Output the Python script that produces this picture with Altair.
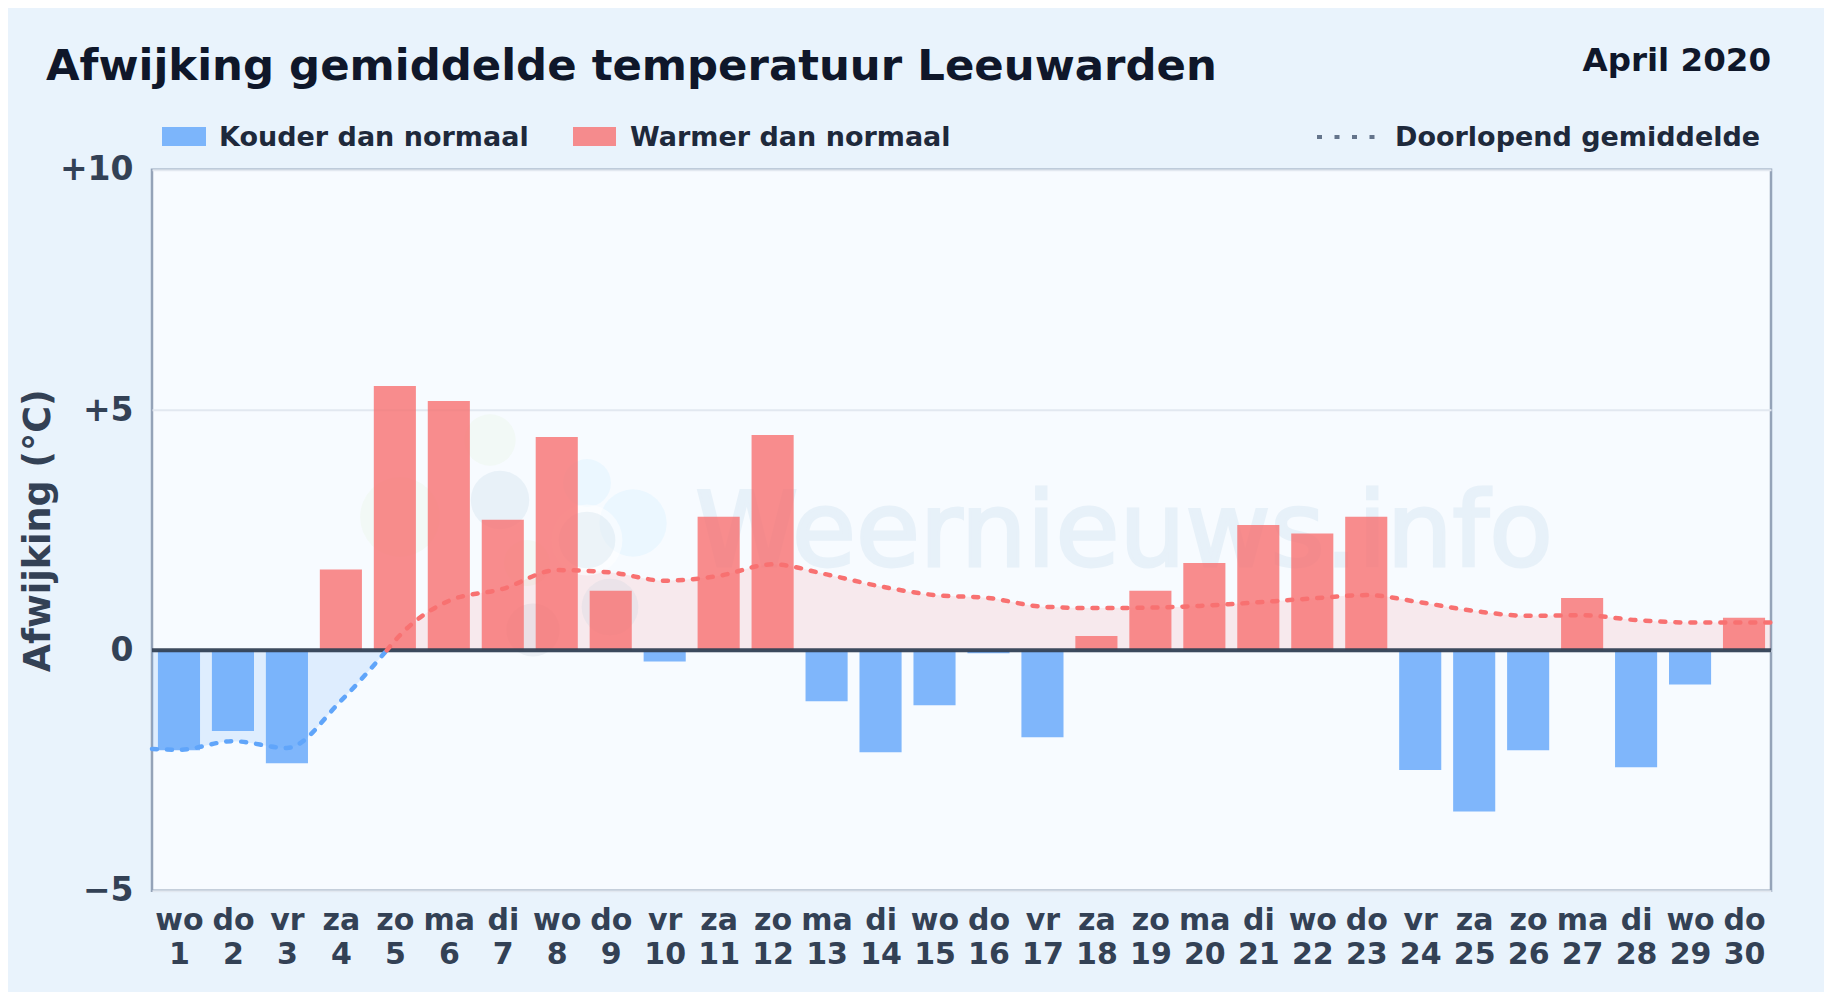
import altair as alt

days = list(range(1, 31))
weekdays = ["wo","do","vr","za","zo","ma","di","wo","do","vr","za","zo","ma","di","wo","do","vr","za","zo","ma","di","wo","do","vr","za","zo","ma","di","wo","do"]
anomaly = [-2.08,-1.68,-2.35,1.68,5.50,5.19,2.72,4.44,1.24,-0.23,2.78,4.48,-1.06,-2.12,-1.14,-0.06,-1.81,0.30,1.24,1.82,2.61,2.43,2.78,-2.49,-3.35,-2.08,1.09,-2.43,-0.71,0.68]
avg_days_cold = [0.5,1,2,3,4,4.85]
avg_cold = [-2.05,-2.07,-1.89,-2.03,-1.05,0]
avg_days_warm = [4.85,5,6,7,8,9,10,11,12,13,14,15,16,17,18,19,20,21,22,23,24,25,26,27,28,29,30,30.5]
avg_warm = [0,0.2,1.03,1.28,1.67,1.62,1.45,1.55,1.79,1.58,1.33,1.15,1.09,0.91,0.88,0.89,0.93,1.0,1.08,1.15,1.0,0.82,0.72,0.73,0.63,0.58,0.58,0.58]
title_text = "Afwijking gemiddelde temperatuur Leeuwarden"
period_text = "April 2020"
legend_cold = "Kouder dan normaal"
legend_warm = "Warmer dan normaal"
legend_avg = "Doorlopend gemiddelde"
watermark = "Weernieuws.info"
y_title = "Afwijking (°C)"

FONT = "DejaVu Sans"
BLUE, RED = "#60a5fa", "#f87171"
OX, OY = 152, 169.7  # plot origin on the page
W, H = 1619, 721

xs = alt.Scale(domain=[0.5, 30.5], nice=False, zero=False)
ys = alt.Scale(domain=[-5, 10], nice=False)

wd_js = "[" + ",".join(f"'{d}'" for d in weekdays) + "]"
xaxis = alt.Axis(values=days, title=None, domain=False, ticks=False, grid=False, labelOverlap=False,
                 labelExpr=f"[{wd_js}[datum.value-1], ''+datum.value]", labelFont=FONT, labelFontWeight="bold",
                 labelFontSize=30, labelColor="#334155", labelPadding=15, labelBaseline="top", labelLineHeight=34)
yaxis = alt.Axis(values=[-5, 0, 5, 10], title=y_title, domain=False, ticks=False, grid=True, gridColor="#e2e8f0", gridWidth=2,
                 labelExpr="datum.value>0?'+'+datum.value:(datum.value<0?'−'+abs(datum.value):'0')",
                 labelFont=FONT, labelFontWeight="bold", labelFontSize=33, labelColor="#334155", labelPadding=19,
                 titleFont=FONT, titleFontWeight="bold", titleFontSize=36.5, titleColor="#334155", titlePadding=2)

bar_data = alt.Data(values=[{"day": d, "v": v} for d, v in zip(days, anomaly)])
cold_data = alt.Data(values=[{"day": d, "v": v} for d, v in zip(avg_days_cold, avg_cold)])
warm_data = alt.Data(values=[{"day": d, "v": v} for d, v in zip(avg_days_warm, avg_warm)])

def area(data, color, op):
    return alt.Chart(data).mark_area(color=color, opacity=op, interpolate="monotone").encode(
        x=alt.X("day:Q", scale=xs, axis=xaxis), y=alt.Y("v:Q", scale=ys, axis=yaxis), y2=alt.datum(0))

def line(data, color):
    return alt.Chart(data).mark_line(color=color, strokeWidth=4.5, strokeDash=[5, 10], strokeCap="round", interpolate="monotone").encode(
        x=alt.X("day:Q", scale=xs), y=alt.Y("v:Q", scale=ys))

def blob(x, y, r, color, op):
    return alt.Chart(alt.Data(values=[{"a": 1}])).mark_circle(color=color, opacity=op, size=3.1416*r*r).encode(
        x=alt.value(x-OX), y=alt.value(y-OY))

def label(text, x, y, size, color, align="left", weight="bold", font=FONT, opacity=1, **kw):
    return alt.Chart(alt.Data(values=[{"t": text}])).mark_text(
        align=align, baseline="middle", font=font, fontSize=size, fontWeight=weight, color=color, opacity=opacity, **kw
    ).encode(x=alt.value(x-OX), y=alt.value(y-OY), text="t:N")

def swatch(x0, x1, y0, y1, color):
    return alt.Chart(alt.Data(values=[{"a": 1}])).mark_rect(color=color, opacity=0.8).encode(
        x=alt.value(x0-OX), x2=alt.value(x1-OX), y=alt.value(y0-OY), y2=alt.value(y1-OY))

logo = [
    blob(490, 440, 29, "#84cc16", 0.04),
    blob(400, 517, 45, "#84cc16", 0.04),
    blob(527, 563, 26, "#84cc16", 0.04),
    blob(500, 500, 33, "#3b82a6", 0.08),
    blob(587, 483, 27, "#38bdf8", 0.06),
    blob(633, 523, 38, "#38bdf8", 0.06),
    blob(587, 540, 40, "#ffffff", 0.55),
    blob(587, 540, 32, "#3b82a6", 0.08),
    blob(610, 607, 32, "#3b82a6", 0.06),
    blob(533, 630, 30, "#64748b", 0.08),
]

bars = alt.Chart(bar_data).transform_calculate(
    x0="datum.day-0.39", x1="datum.day+0.39", c="datum.v<0?'cold':'warm'"
).mark_bar(opacity=0.8).encode(
    x=alt.X("x0:Q", scale=xs), x2="x1:Q",
    y=alt.Y("v:Q", scale=ys), y2=alt.datum(0),
    color=alt.Color("c:N", scale=alt.Scale(domain=["cold", "warm"], range=[BLUE, RED]), legend=None),
)
zero = alt.Chart(alt.Data(values=[{"z": 0}])).mark_rule(color="#334155", strokeWidth=4, opacity=0.95).encode(
    y=alt.Y("z:Q", scale=ys))

legend_dots = alt.Chart(alt.Data(values=[{"a": 1}])).mark_rule(color="#64748b", strokeWidth=4, strokeDash=[5, 12.5]).encode(
    x=alt.value(1317-OX), x2=alt.value(1376-OX), y=alt.value(137-OY))

chart = alt.layer(
    area(cold_data, BLUE, 0.16), area(warm_data, RED, 0.13),
    *logo,
    label(watermark, 1124, 534.5, 104, "#3b82b6", align="center", weight="normal", opacity=0.08, stroke="#3b82b6", strokeWidth=3),
    bars, zero, line(cold_data, BLUE), line(warm_data, RED),
    label(title_text, 46, 67, 43.4, "#0f172a"),
    label(period_text, 1771, 61, 32.5, "#0f172a", align="right"),
    swatch(162, 206, 127, 146, BLUE), label(legend_cold, 219, 138, 27, "#1e293b"),
    swatch(573, 616, 127, 146, RED), label(legend_warm, 630, 138, 27, "#1e293b"),
    legend_dots, label(legend_avg, 1395, 138, 27, "#1e293b"),
).properties(
    width=W, height=H, background="#e9f3fc",
    padding={"left": OX-8, "top": OY-8, "right": 1816-(OX-8)-W, "bottom": 984-(OY-8)-H},
    autosize=alt.AutoSizeParams(type="none"),
).configure_view(fill="#f7fbff", stroke="#94a3b8", strokeWidth=2.5)

chart.save("out.html", embed_options={"renderer": "svg", "actions": False})
